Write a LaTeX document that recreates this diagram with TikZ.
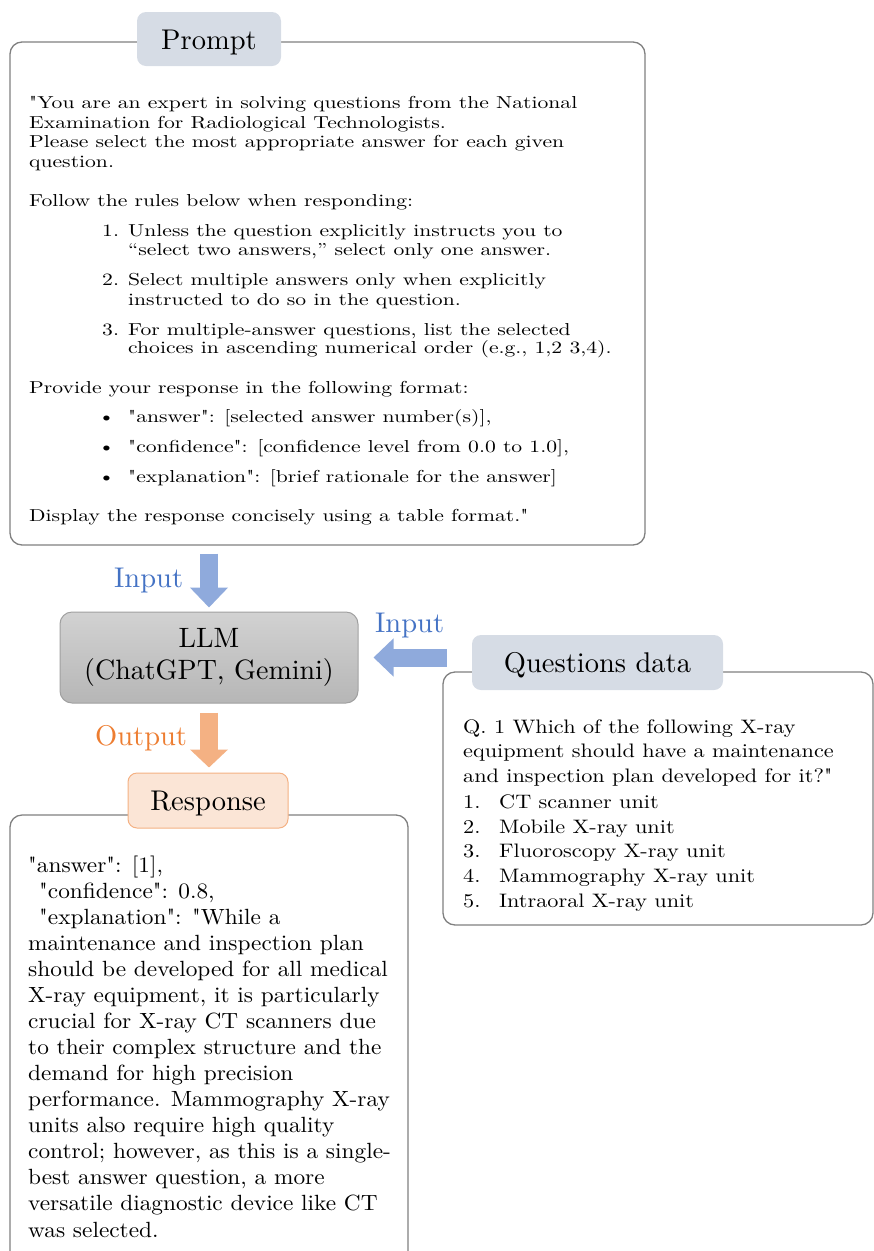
\documentclass[tikz,border=0pt]{standalone}
\usepackage{fontspec}
\setmainfont{lmroman10-regular.otf}
\newfontfamily\pfam{lmroman10-regular.otf}[FakeStretch=1.25]
\newfontfamily\qfam{lmroman10-regular.otf}[FakeStretch=1.14]
\newfontfamily\rfam{lmroman10-regular.otf}[FakeStretch=1.06]
\usetikzlibrary{arrows.meta}
\definecolor{framegray}{HTML}{808080}
\definecolor{lblblue}{HTML}{D6DCE5}
\definecolor{arrowblue}{HTML}{8FAADC}
\definecolor{textblue}{HTML}{4472C4}
\definecolor{arroworange}{HTML}{F4B183}
\definecolor{textorange}{HTML}{ED7D31}
\definecolor{respfill}{HTML}{FBE5D6}
\definecolor{llmtop}{HTML}{D2D2D2}
\definecolor{llmbot}{HTML}{B6B6B6}
\definecolor{llmdraw}{HTML}{A0A0A0}
\tikzset{
  frame/.style={draw=framegray, line width=1.3pt, rounded corners=12pt, inner sep=0pt},
  lbl/.style={fill=lblblue, rounded corners=9pt, inner sep=0pt, text height=20pt, text depth=0pt,
    font=\fontsize{28.5}{33}\selectfont},
  resplbl/.style={lbl, fill=respfill, draw=arroworange, line width=1pt},
  llmbox/.style={top color=llmtop, bottom color=llmbot, draw=llmdraw, line width=1pt,
    rounded corners=12pt, align=center, font=\fontsize{28}{32}\selectfont},
  ptext/.style={anchor=base west, inner sep=0pt, font=\pfam\fontsize{17.3}{19.5}\selectfont},
  qtext/.style={anchor=base west, inner sep=0pt, font=\qfam\fontsize{19.5}{25}\selectfont},
  rtext/.style={anchor=base west, inner sep=0pt, font=\rfam\fontsize{22}{26}\selectfont},
  flowlbl/.style={anchor=base west, inner sep=0pt, font=\fontsize{28.5}{33}\selectfont},
  bluearrow/.style={draw=arrowblue, line width=18pt, -{Triangle[length=20pt,width=37pt]}},
  orangearrow/.style={draw=arroworange, line width=18pt, -{Triangle[length=18pt,width=37pt]}}
}
\begin{document}
\begin{tikzpicture}[x=1pt,y=-1pt]
\useasboundingbox (0,0) rectangle (874,1251);
\clip (0,0) rectangle (874,1251);

% ---------- Prompt ----------
\node[frame, minimum width=635pt, minimum height=503pt] (promptbox) at (327.5,293.5) {};
\node[lbl, minimum width=144pt, minimum height=54pt] (promptlbl) at (209,39) {Prompt};

\node[ptext] (p1) at (29,108) {"You are an expert in solving questions from the National};
\node[ptext] (p2) at (29,128) {Examination for Radiological Technologists.};
\node[ptext] (p3) at (29,147) {Please select the most appropriate answer for each given};
\node[ptext] (p4) at (29,167) {question.};
\node[ptext] (p5) at (29,206) {Follow the rules below when responding:};
\node[ptext] (n1) at (102,236) {1.};
\node[ptext] (p6) at (128,236) {Unless the question explicitly instructs you to};
\node[ptext] (p7) at (128,255) {“select two answers,” select only one answer.};
\node[ptext] (n2) at (102,285) {2.};
\node[ptext] (p8) at (128,285) {Select multiple answers only when explicitly};
\node[ptext] (p9) at (128,305) {instructed to do so in the question.};
\node[ptext] (n3) at (102,335) {3.};
\node[ptext] (p10) at (128,335) {For multiple-answer questions, list the selected};
\node[ptext] (p11) at (128,353) {choices in ascending numerical order (e.g., 1,2 3,4).};
\node[ptext] (p12) at (29,393) {Provide your response in the following format:};
\node[ptext] (b1) at (98,422) {\textbullet};
\node[ptext] (p13) at (128,422) {"answer": [selected answer number(s)],};
\node[ptext] (b2) at (98,452) {\textbullet};
\node[ptext] (p14) at (128,452) {"confidence": [confidence level from 0.0 to 1.0],};
\node[ptext] (b3) at (98,482) {\textbullet};
\node[ptext] (p15) at (128,482) {"explanation": [brief rationale for the answer]};
\node[ptext] (p16) at (29,521) {Display the response concisely using a table format."};

% ---------- LLM ----------
\node[llmbox, minimum width=298pt, minimum height=91pt] (llm) at (209,657.5) {LLM\\(ChatGPT, Gemini)};

% ---------- Questions data ----------
\node[frame, minimum width=430pt, minimum height=253pt] (qbox) at (658,798.5) {};
\node[lbl, minimum width=251pt, minimum height=55pt] (qlbl) at (597.5,662.5) {Questions data};

\node[qtext] (q1) at (463,733) {Q. 1 Which of the following X-ray};
\node[qtext] (q2) at (463,757) {equipment should have a maintenance};
\node[qtext] (q3) at (463,782) {and inspection plan developed for it?"};
\node[qtext] (qn1) at (463,808) {1.};
\node[qtext] (qi1) at (499,808) {CT scanner unit};
\node[qtext] (qn2) at (463,833) {2.};
\node[qtext] (qi2) at (499,833) {Mobile X-ray unit};
\node[qtext] (qn3) at (463,857) {3.};
\node[qtext] (qi3) at (499,857) {Fluoroscopy X-ray unit};
\node[qtext] (qn4) at (463,882) {4.};
\node[qtext] (qi4) at (499,882) {Mammography X-ray unit};
\node[qtext] (qn5) at (463,907) {5.};
\node[qtext] (qi5) at (499,907) {Intraoral X-ray unit};

% ---------- Response ----------
\node[frame, minimum width=398pt, minimum height=485pt] (respbox) at (209,1057.5) {};
\node[resplbl, minimum width=160pt, minimum height=55pt] (rlbl) at (208,800.5) {Response};

\node[rtext] (r1) at (28,872) {"answer": [1],};
\node[rtext] (r2) at (39,898) {"confidence": 0.8,};
\node[rtext] (r3) at (39,924) {"explanation": "While a};
\node[rtext] (r4) at (28,950) {maintenance and inspection plan};
\node[rtext] (r5) at (28,976) {should be developed for all medical};
\node[rtext] (r6) at (28,1002) {X-ray equipment, it is particularly};
\node[rtext] (r7) at (28,1028) {crucial for X-ray CT scanners due};
\node[rtext] (r8) at (28,1054) {to their complex structure and the};
\node[rtext] (r9) at (28,1080) {demand for high precision};
\node[rtext] (r10) at (28,1106) {performance. Mammography X-ray};
\node[rtext] (r11) at (28,1132) {units also require high quality};
\node[rtext] (r12) at (28,1158) {control; however, as this is a single-};
\node[rtext] (r13) at (28,1184) {best answer question, a more};
\node[rtext] (r14) at (28,1210) {versatile diagnostic device like CT};
\node[rtext] (r15) at (28,1237) {was selected.};

% ---------- Connectors ----------
\draw[bluearrow, shorten <=8pt, shorten >=4pt] (llm.north |- promptbox.south) -- (llm.north);
\node[flowlbl, text=textblue] (in1) at (114,587) {Input};

\draw[bluearrow] ([xshift=-25pt]qlbl.west |- llm.east) -- ([xshift=15pt]llm.east);
\node[flowlbl, text=textblue] (in2) at (375,632) {Input};

\draw[orangearrow, shorten <=9pt, shorten >=5pt] (llm.south) -- (rlbl.north -| llm.south);
\node[flowlbl, text=textorange] (out) at (95,745) {Output};
\end{tikzpicture}
\end{document}
